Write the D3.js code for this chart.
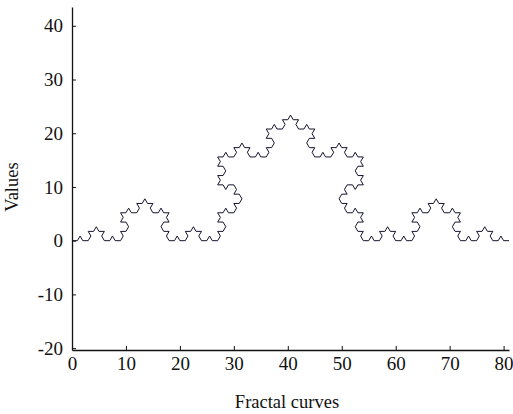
<!DOCTYPE html>
<html>
<head>
<meta charset="utf-8">
<script src="https://cdn.jsdelivr.net/npm/d3@7"></script>
<style>
  body { margin: 0; background: #fff; }
  svg text { font-family: "Liberation Serif", "Times New Roman", serif; }
</style>
</head>
<body>
<div id="chart"></div>
<script>
// Koch curve (order 4) traced as unit steps; each digit is a heading in 60° units
const headings = [
  "0150120150450150", "1201231201501201", "5045015045345045", "0150120150450150",
  "1201231201501201", "2312342312012312", "0150120150450150", "1201231201501201",
  "5045015045345045", "0150120150450150", "4534504534234534", "5045015045345045",
  "0150120150450150", "1201231201501201", "5045015045345045", "0150120150450150"
]
const startPoint = [0, 0]
const stepLength = 1

const xTicks = [0, 10, 20, 30, 40, 50, 60, 70, 80]
const yTicks = [-20, -10, 0, 10, 20, 30, 40]
const xLabel = 'Fractal curves'
const yLabel = 'Values'

// walk the steps to get the vertices
const points = [startPoint.slice()]
headings.join('').split('').forEach(h => {
  const last = points[points.length - 1]
  const a = (+h) * Math.PI / 3
  points.push([last[0] + stepLength * Math.cos(a), last[1] + stepLength * Math.sin(a)])
})

const width = 513
const height = 414
const margin = { left: 72, right: 4, top: 7, bottom: 64 }
const serif = '"Liberation Serif", "Times New Roman", serif'

const svg = d3.select('#chart')
  .append('svg')
  .attr('width', width)
  .attr('height', height)

const x = d3.scaleLinear().domain([0, 81]).range([margin.left, width - margin.right])
const y = d3.scaleLinear().domain([-20.35, 43.5]).range([height - margin.bottom, margin.top])

const axisColor = '#111'

// curve
svg.append('path')
  .datum(points)
  .attr('fill', 'none')
  .attr('stroke', '#14142e')
  .attr('stroke-width', 1)
  .attr('d', d3.line().x(d => x(d[0])).y(d => y(d[1])))

// x axis, ticks pointing inward
const xAxis = svg.append('g')
  .attr('transform', `translate(0,${y.range()[0]})`)
  .call(d3.axisBottom(x).tickValues(xTicks).tickFormat(d => String(d))
    .tickSize(-4).tickSizeOuter(0).tickPadding(7))
xAxis.select('.domain').attr('stroke', axisColor).attr('stroke-width', 1.3)
xAxis.selectAll('.tick line').attr('stroke', axisColor)
xAxis.selectAll('.tick text')
  .style('font-family', serif)
  .style('font-size', '19px')
  .attr('fill', '#111')

// y axis
const yAxis = svg.append('g')
  .attr('transform', `translate(${margin.left},0)`)
  .call(d3.axisLeft(y).tickValues(yTicks).tickFormat(d => String(d))
    .tickSize(-4).tickSizeOuter(0).tickPadding(9))
yAxis.select('.domain').attr('stroke', axisColor).attr('stroke-width', 1.3)
yAxis.selectAll('.tick line').attr('stroke', axisColor)
yAxis.selectAll('.tick text')
  .style('font-family', serif)
  .style('font-size', '19px')
  .attr('fill', '#111')

// axis titles
svg.append('text')
  .attr('x', 287)
  .attr('y', 408)
  .attr('text-anchor', 'middle')
  .style('font-family', serif)
  .style('font-size', '18.5px')
  .attr('fill', '#111')
  .text(xLabel)

svg.append('text')
  .attr('transform', `translate(18,187) rotate(-90)`)
  .attr('text-anchor', 'middle')
  .style('font-family', serif)
  .style('font-size', '18.5px')
  .attr('fill', '#111')
  .text(yLabel)
</script>
</body>
</html>
